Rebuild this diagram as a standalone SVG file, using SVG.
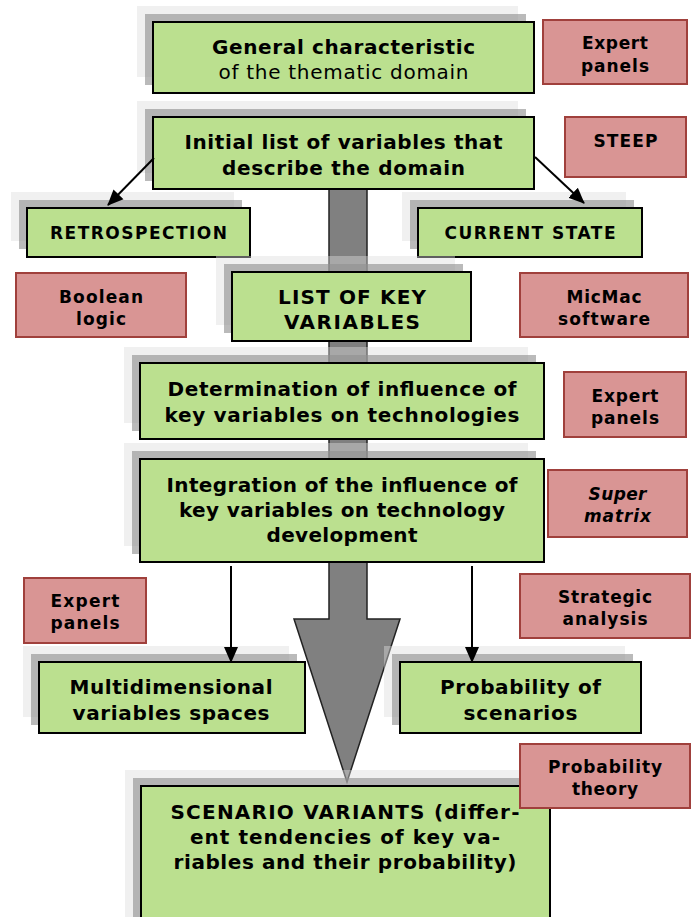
<svg xmlns="http://www.w3.org/2000/svg" width="695" height="917" viewBox="0 0 695 917">
<style>
.bg{fill:#ffffff}
.sh1{fill:#dcdcdc;fill-opacity:0.43}
.sh2{fill:#909090;fill-opacity:0.625}
.gb{fill:#bbe08f;stroke:#000;stroke-width:2}
.rb{fill:#d99594;stroke:#a0403c;stroke-width:2}
text{font-family:"DejaVu Sans","Verdana",sans-serif;fill:#000;text-anchor:middle}
.b{font-weight:bold;font-size:20px}
.n{font-weight:normal;font-size:20px}
.s{font-weight:bold;font-size:17px}
.r{font-weight:bold;font-size:17px}
.ri{font-weight:bold;font-style:italic;font-size:17px}
.flow{fill:#808080;stroke:#222;stroke-width:1.5;stroke-linejoin:miter}
.con{stroke:#000;stroke-width:2;fill:none}
</style>
<defs>
<marker id="ah" markerUnits="userSpaceOnUse" markerWidth="16" markerHeight="16" viewBox="0 0 16 16" refX="15" refY="8" orient="auto">
<path d="M0,1 L16,8 L0,15 Z" fill="#000"/>
</marker>
</defs>
<rect class="bg" x="0" y="0" width="695" height="917"/>

<g id="flow-arrow">
<polygon class="flow" points="329,189 367,189 367,619 400,619 347,782 294,619 329,619"/>
</g>

<g id="n-general">
<rect class="sh1" x="137" y="6" width="381" height="71"/>
<rect class="sh2" x="145" y="14" width="381" height="71"/>
<rect class="gb" x="153" y="22" width="381" height="71"/>
<text class="b" x="343.5" y="54" textLength="263">General characteristic</text>
<text class="n" x="343.5" y="79" textLength="250">of the thematic domain</text>
</g>

<g id="n-initial">
<rect class="sh1" x="137" y="101" width="381" height="72"/>
<rect class="sh2" x="145" y="109" width="381" height="72"/>
<rect class="gb" x="153" y="117" width="381" height="72"/>
<text class="b" x="343.5" y="149" textLength="318">Initial list of variables that</text>
<text class="b" x="343.5" y="175" textLength="243">describe the domain</text>
</g>

<g id="n-retro">
<rect class="sh1" x="11" y="192" width="223" height="49"/>
<rect class="sh2" x="19" y="200" width="223" height="49"/>
<rect class="gb" x="27" y="208" width="223" height="49"/>
<text class="s" x="138.5" y="239" textLength="177">RETROSPECTION</text>
</g>

<g id="n-current">
<rect class="sh1" x="402" y="192" width="224" height="49"/>
<rect class="sh2" x="410" y="200" width="224" height="49"/>
<rect class="gb" x="418" y="208" width="224" height="49"/>
<text class="s" x="530" y="239" textLength="171">CURRENT STATE</text>
</g>

<g id="n-list">
<rect class="sh1" x="216" y="256" width="239" height="69"/>
<rect class="sh2" x="224" y="264" width="239" height="69"/>
<rect class="gb" x="232" y="272" width="239" height="69"/>
<text class="b" x="352" y="304" textLength="148">LIST OF KEY</text>
<text class="b" x="352" y="329" textLength="136">VARIABLES</text>
</g>

<g id="n-determination">
<rect class="sh1" x="124" y="347" width="404" height="76"/>
<rect class="sh2" x="132" y="355" width="404" height="76"/>
<rect class="gb" x="140" y="363" width="404" height="76"/>
<text class="b" x="342" y="396" textLength="349">Determination of influence of</text>
<text class="b" x="342" y="422" textLength="355">key variables on technologies</text>
</g>

<g id="n-integration">
<rect class="sh1" x="124" y="443" width="404" height="103"/>
<rect class="sh2" x="132" y="451" width="404" height="103"/>
<rect class="gb" x="140" y="459" width="404" height="103"/>
<text class="b" x="342" y="492" textLength="351">Integration of the influence of</text>
<text class="b" x="342" y="517" textLength="326">key variables on technology</text>
<text class="b" x="342" y="542" textLength="151">development</text>
</g>

<g id="n-multi">
<rect class="sh1" x="23" y="646" width="266" height="71"/>
<rect class="sh2" x="31" y="654" width="266" height="71"/>
<rect class="gb" x="39" y="662" width="266" height="71"/>
<text class="b" x="171" y="694" textLength="203">Multidimensional</text>
<text class="b" x="171" y="720" textLength="197">variables spaces</text>
</g>

<g id="n-probability">
<rect class="sh1" x="384" y="646" width="241" height="71"/>
<rect class="sh2" x="392" y="654" width="241" height="71"/>
<rect class="gb" x="400" y="662" width="241" height="71"/>
<text class="b" x="520.5" y="694" textLength="161">Probability of</text>
<text class="b" x="520.5" y="720" textLength="114">scenarios</text>
</g>

<g id="n-scenario">
<rect class="sh1" x="125" y="770" width="409" height="150"/>
<rect class="sh2" x="133" y="778" width="409" height="150"/>
<rect class="gb" x="141" y="786" width="409" height="150"/>
<text class="b" x="345" y="819" textLength="349">SCENARIO VARIANTS (differ-</text>
<text class="b" x="345" y="844" textLength="310">ent tendencies of key va-</text>
<text class="b" x="345" y="869" textLength="343">riables and their probability)</text>
</g>

<g id="m-expert1">
<rect class="rb" x="543" y="20" width="144" height="64"/>
<text class="r" x="615" y="49" textLength="66">Expert</text>
<text class="r" x="615" y="72" textLength="68">panels</text>
</g>

<g id="m-steep">
<rect class="rb" x="565" y="117" width="121" height="60"/>
<text class="r" x="625.5" y="147" textLength="64">STEEP</text>
</g>

<g id="m-boolean">
<rect class="rb" x="16" y="273" width="170" height="64"/>
<text class="r" x="101" y="303" textLength="84">Boolean</text>
<text class="r" x="101" y="325" textLength="50">logic</text>
</g>

<g id="m-micmac">
<rect class="rb" x="520" y="273" width="168" height="64"/>
<text class="r" x="604" y="303" textLength="75">MicMac</text>
<text class="r" x="604" y="325" textLength="92">software</text>
</g>

<g id="m-expert2">
<rect class="rb" x="564" y="372" width="122" height="65"/>
<text class="r" x="625" y="402" textLength="67">Expert</text>
<text class="r" x="625" y="424" textLength="68">panels</text>
</g>

<g id="m-supermatrix">
<rect class="rb" x="548" y="470" width="139" height="67"/>
<text class="ri" x="617.5" y="500" textLength="58">Super</text>
<text class="ri" x="617.5" y="522" textLength="67">matrix</text>
</g>

<g id="m-expert3">
<rect class="rb" x="24" y="578" width="122" height="65"/>
<text class="r" x="85" y="607" textLength="69">Expert</text>
<text class="r" x="85" y="629" textLength="69">panels</text>
</g>

<g id="m-strategic">
<rect class="rb" x="520" y="574" width="170" height="64"/>
<text class="r" x="605" y="603" textLength="94">Strategic</text>
<text class="r" x="605" y="625" textLength="85">analysis</text>
</g>

<g id="m-probtheory">
<rect class="rb" x="520" y="744" width="170" height="64"/>
<text class="r" x="605" y="773" textLength="114">Probability</text>
<text class="r" x="605" y="795" textLength="66">theory</text>
</g>

<g id="connectors">
<line class="con" x1="154" y1="158" x2="108" y2="205" marker-end="url(#ah)"/>
<line class="con" x1="535" y1="157" x2="584" y2="203" marker-end="url(#ah)"/>
<line class="con" x1="231" y1="566" x2="231" y2="662" marker-end="url(#ah)"/>
<line class="con" x1="472" y1="566" x2="472" y2="662" marker-end="url(#ah)"/>
</g>
</svg>
